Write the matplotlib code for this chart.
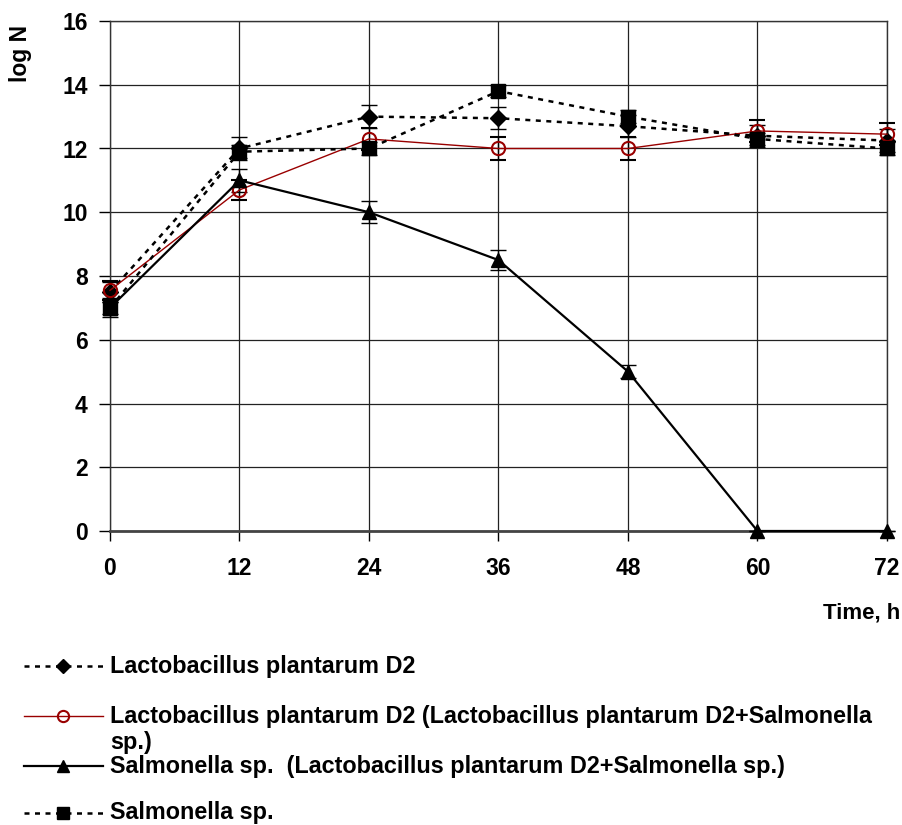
import numpy as np
import matplotlib.pyplot as plt
from matplotlib.lines import Line2D

plt.rcParams['font.family'] = ['Liberation Sans', 'DejaVu Sans']
plt.rcParams['font.weight'] = 'bold'
plt.rcParams['font.size'] = 16.5

time_h = [0, 12, 24, 36, 48, 60, 72]

lacto = [7.5, 12.0, 13.0, 12.95, 12.7, 12.4, 12.25]
lacto_err = [0.3, 0.35, 0.35, 0.35, 0.35, 0.35, 0.35]

lacto_mix = [7.55, 10.7, 12.3, 12.0, 12.0, 12.55, 12.45]
lacto_mix_err = [0.3, 0.3, 0.35, 0.35, 0.35, 0.35, 0.35]

salm_mix = [7.0, 11.0, 10.0, 8.5, 5.0, 0.0, 0.0]
salm_mix_err = [0.3, 0.35, 0.35, 0.3, 0.2, 0.0, 0.0]

salm = [7.0, 11.9, 12.0, 13.8, 13.0, 12.3, 12.0]
salm_err = [0.2, 0.2, 0.2, 0.2, 0.2, 0.2, 0.2]

labels = ['Lactobacillus plantarum D2',
          'Lactobacillus plantarum D2 (Lactobacillus plantarum D2+Salmonella\nsp.)',
          'Salmonella sp.  (Lactobacillus plantarum D2+Salmonella sp.)',
          'Salmonella sp.']

red = '#990000'
styles = [
    dict(color='black', ls=(0, (2, 2.2)), lw=1.8, marker='D', ms=8, mfc='black', mec='black'),
    dict(color=red, ls='-', lw=1, marker='o', ms=9.5, mfc='none', mec=red, mew=1.5),
    dict(color='black', ls='-', lw=1.6, marker='^', ms=10.5, mfc='black', mec='black'),
    dict(color='black', ls=(0, (2, 2.2)), lw=1.8, marker='s', ms=9.5, mfc='black', mec='black'),
]
series = [(lacto, lacto_err), (lacto_mix, lacto_mix_err),
          (salm_mix, salm_mix_err), (salm, salm_err)]

fig = plt.figure(figsize=(9.03, 8.25), dpi=100)
ax = fig.add_axes([110 / 903, 1 - 531 / 825, 777 / 903, 510 / 825])

for (vals, err), st in zip(series, styles):
    lines = ax.errorbar(time_h, vals, yerr=err, ecolor='black', elinewidth=1,
                        capsize=6, capthick=1, zorder=3, **st)
    for art in lines.lines[0:1] + tuple(lines.lines[1]) + tuple(lines.lines[2]):
        art.set_clip_on(False)

ax.set_xlim(0, 72)
ax.set_ylim(0, 16)
ax.set_xticks(time_h)
ax.set_yticks(range(0, 17, 2))
ax.grid(True, color='#222222', lw=0.9)
ax.set_axisbelow(True)
ax.tick_params(axis='y', direction='out', length=8, width=1, pad=8)
ax.tick_params(axis='x', direction='out', length=7, width=1, pad=12)
for s in ax.spines.values():
    s.set_color('#333333')
    s.set_linewidth(1)
ax.spines['bottom'].set_linewidth(2)
ax.spines['bottom'].set_color('#444444')
for lab in ax.get_xticklabels() + ax.get_yticklabels():
    lab.set_fontweight('bold')

fig.text(20 / 903, 1 - 53 / 825, 'log N', rotation=90, ha='center', va='center',
         fontweight='bold', fontsize=16.5)
fig.text(900 / 903, 1 - 613 / 825, 'Time, h', ha='right', va='center',
         fontweight='bold', fontsize=16)

# legend drawn below the chart
rows = [666, 716, 766, 813]
for y, st, lab in zip(rows, styles, labels):
    fy = 1 - y / 825
    kw = dict(st)
    ms = kw.pop('ms')
    h = Line2D([24 / 903, 103 / 903], [fy, fy], transform=fig.transFigure,
               markevery=[], **kw)
    fig.add_artist(h)
    m = Line2D([63 / 903], [fy], transform=fig.transFigure, ls='none',
               marker=kw['marker'], ms=ms * 0.85, mfc=kw['mfc'], mec=kw['mec'],
               mew=kw.get('mew', 1))
    fig.add_artist(m)
    for k, part in enumerate(lab.split('\n')):
        fig.text(110 / 903, fy - k * 26 / 825, part, ha='left', va='center',
                 fontweight='bold', fontsize=16.8)

fig.savefig('out.png', dpi=100)
